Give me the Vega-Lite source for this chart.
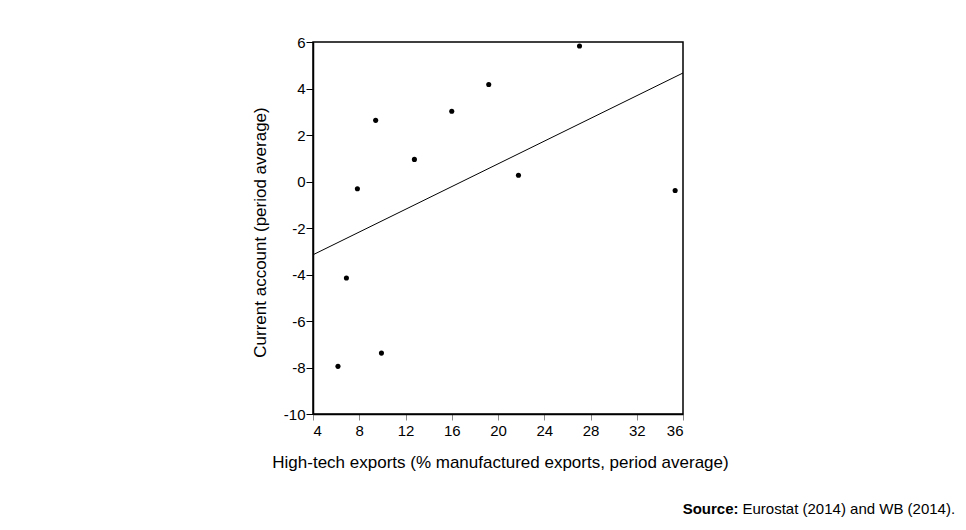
{
  "$schema": "https://vega.github.io/schema/vega-lite/v6.json",
  "width": 370,
  "height": 372,
  "autosize": {"type": "none"},
  "padding": {"left": 313, "top": 42, "right": 283, "bottom": 116},
  "background": "white",
  "data": {
    "values": [
      {"x": 9.42, "y": 2.63},
      {"x": 12.77, "y": 0.95},
      {"x": 7.84, "y": -0.31},
      {"x": 6.89, "y": -4.15},
      {"x": 6.16, "y": -7.95},
      {"x": 9.92, "y": -7.38},
      {"x": 16.0, "y": 3.02},
      {"x": 19.2, "y": 4.17},
      {"x": 27.05, "y": 5.83},
      {"x": 21.77, "y": 0.27},
      {"x": 35.32, "y": -0.39}
    ]
  },
  "config": {
    "view": {"stroke": "black", "strokeWidth": 1.5},
    "font": "Liberation Sans"
  },
  "resolve": {"axis": {"x": "independent", "y": "independent"}},
  "layer": [
    {
      "mark": {"type": "point", "filled": true, "color": "black", "size": 26, "opacity": 1},
      "encoding": {
        "x": {
          "field": "x",
          "type": "quantitative",
          "scale": {"domain": [4, 36], "nice": false, "zero": false},
          "axis": {
            "orient": "bottom",
            "title": "High-tech exports (% manufactured exports, period average)",
            "values": [4, 8, 12, 16, 20, 24, 28, 32, 36],
            "labelExpr": "toString(datum.value)",
            "grid": false,
            "domainColor": "black",
            "domainWidth": 1.5,
            "tickColor": "#888888",
            "tickSize": 6,
            "labelFont": "Liberation Sans",
            "labelFontSize": 15,
            "labelColor": "black",
            "labelPadding": 3,
            "titleFont": "Liberation Sans",
            "titleFontSize": 17,
            "titleFontWeight": "normal",
            "titleColor": "black",
            "titlePadding": 16,
            "titleX": 187
          }
        },
        "y": {
          "field": "y",
          "type": "quantitative",
          "scale": {"domain": [-10, 6], "nice": false, "zero": false},
          "axis": {
            "orient": "left",
            "title": "Current account (period average)",
            "values": [-10, -8, -6, -4, -2, 0, 2, 4, 6],
            "labelExpr": "toString(datum.value)",
            "grid": false,
            "domainColor": "black",
            "domainWidth": 1.5,
            "tickColor": "black",
            "tickSize": 7,
            "labelFont": "Liberation Sans",
            "labelFontSize": 15,
            "labelColor": "black",
            "labelPadding": 1,
            "titleFont": "Liberation Sans",
            "titleFontSize": 17,
            "titleFontWeight": "normal",
            "titleColor": "black",
            "titlePadding": 14,
            "titleY": 190
          }
        }
      }
    },
    {
      "transform": [{"regression": "y", "on": "x", "extent": [4, 36]}],
      "mark": {"type": "line", "color": "black", "strokeWidth": 1},
      "encoding": {
        "x": {
          "field": "x",
          "type": "quantitative",
          "axis": {
            "orient": "top",
            "domain": false,
            "ticks": false,
            "labels": false,
            "grid": false,
            "title": "Source:",
            "titleFont": "Liberation Sans",
            "titleFontSize": 15,
            "titleFontWeight": "bold",
            "titleColor": "black",
            "titleX": 425,
            "titleY": 471,
            "titleAlign": "right",
            "titleBaseline": "alphabetic",
            "titleAngle": 0
          }
        },
        "y": {
          "field": "y",
          "type": "quantitative",
          "axis": {
            "orient": "right",
            "domain": false,
            "ticks": false,
            "labels": false,
            "grid": false,
            "title": "Eurostat (2014) and WB (2014).",
            "titleFont": "Liberation Sans",
            "titleFontSize": 15,
            "titleFontWeight": "normal",
            "titleColor": "black",
            "titleX": 59,
            "titleY": 471,
            "titleAlign": "left",
            "titleBaseline": "alphabetic",
            "titleAngle": 0
          }
        }
      }
    }
  ]
}
